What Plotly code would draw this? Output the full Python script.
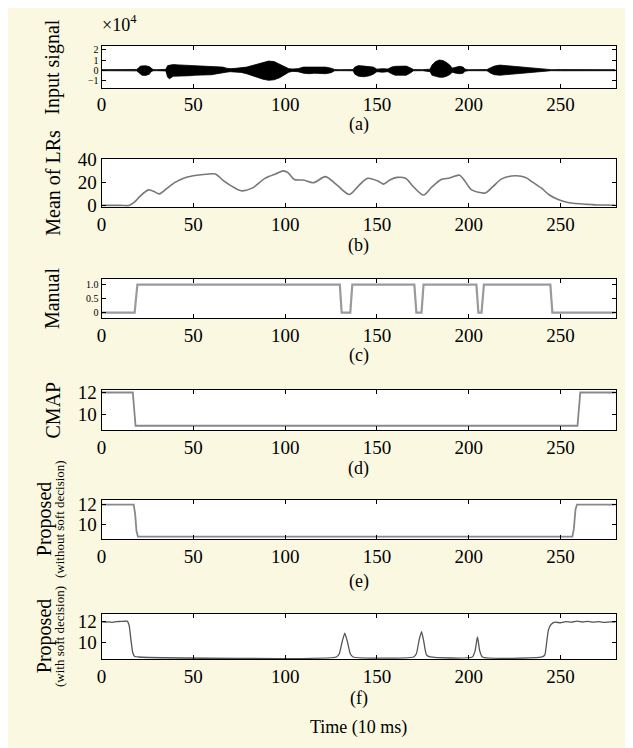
import plotly.graph_objects as go

W, H = 633, 748

# ---------------- data ----------------
# (a) input signal envelope (x10^4)
sig_t = [0, 5, 10, 15, 19, 20, 21, 22, 24, 26, 27, 28, 30, 33, 35, 36, 37, 39, 42, 45, 48, 51, 54, 57, 60,
         63, 66, 68, 70, 73, 76, 79, 82, 85, 88, 91, 94, 97, 100, 102, 104, 107, 110, 113, 116, 119, 122,
         125, 127, 130, 134, 137, 138, 140, 143, 146, 148, 150, 153, 156, 158, 160, 163, 166, 168, 170,
         175, 179, 180, 182, 184, 186, 188, 190, 191, 193, 195, 197, 198, 200, 205, 210, 212, 214, 217,
         220, 223, 226, 229, 232, 235, 238, 240, 245, 250, 260, 270, 280]
sig_hi = [0.05, 0.06, 0.05, 0.06, 0.07, 0.2, 0.38, 0.42, 0.43, 0.35, 0.15, 0.06, 0.05, 0.06, 0.08, 0.45,
          0.5, 0.55, 0.52, 0.5, 0.48, 0.45, 0.4, 0.42, 0.35, 0.35, 0.3, 0.2, 0.15, 0.18, 0.22, 0.3, 0.45,
          0.6, 0.8, 0.9, 0.85, 0.6, 0.35, 0.15, 0.12, 0.15, 0.3, 0.3, 0.28, 0.32, 0.3, 0.2, 0.06, 0.05,
          0.05, 0.06, 0.3, 0.45, 0.4, 0.38, 0.3, 0.1, 0.15, 0.12, 0.3, 0.38, 0.42, 0.4, 0.25, 0.06, 0.05,
          0.1, 0.5, 0.85, 1.0, 0.95, 0.75, 0.45, 0.2, 0.3, 0.38, 0.3, 0.1, 0.05, 0.05, 0.06, 0.25, 0.4,
          0.5, 0.45, 0.35, 0.3, 0.25, 0.2, 0.15, 0.1, 0.07, 0.05, 0.06, 0.05, 0.06, 0.05]
sig_lo = [-0.05, -0.06, -0.05, -0.06, -0.07, -0.2, -0.4, -0.5, -0.52, -0.4, -0.15, -0.06, -0.05, -0.06,
          -0.08, -0.7, -0.85, -0.6, -0.6, -0.55, -0.55, -0.5, -0.5, -0.45, -0.45, -0.35, -0.3, -0.2,
          -0.15, -0.18, -0.22, -0.35, -0.55, -0.75, -0.9, -1.0, -0.95, -0.75, -0.45, -0.2, -0.12, -0.15,
          -0.3, -0.35, -0.3, -0.3, -0.35, -0.25, -0.06, -0.05, -0.05, -0.06, -0.4, -0.6, -0.65, -0.55,
          -0.4, -0.15, -0.2, -0.15, -0.35, -0.5, -0.5, -0.5, -0.3, -0.06, -0.05, -0.15, -0.5, -0.6, -0.7,
          -0.7, -0.6, -0.4, -0.2, -0.3, -0.35, -0.3, -0.1, -0.05, -0.05, -0.06, -0.3, -0.45, -0.5, -0.45,
          -0.4, -0.3, -0.25, -0.2, -0.15, -0.1, -0.07, -0.05, -0.06, -0.05, -0.06, -0.05]

# (b) mean of LRs
lr_t = [0, 10, 15, 18, 21, 25.5, 28, 31.5, 35, 40, 45.8, 52, 57, 62, 66, 70, 76, 82, 89, 95, 99, 101.5,
        105, 110, 115.5, 122, 128, 135, 140, 145, 151, 153.6, 157, 161, 165.6, 170, 175.4, 180, 185,
        189.6, 195, 198, 201.6, 209, 213, 218, 225.5, 231, 235, 239.7, 244, 248.4, 253, 257, 262, 266,
        270, 274.6, 280]
lr_v = [0, 0, 0, 3, 8, 13.5, 12.5, 10, 14, 20, 24.3, 26.2, 27, 27.3, 22, 17.6, 12.7, 15, 23.5, 27.5, 30,
        28.5, 22.5, 22, 19.7, 25, 18, 9.5, 17, 23.5, 20.8, 18.5, 22, 24.3, 23.5, 16, 9, 16, 22.5, 23.8,
        26.2, 21, 13.5, 10.8, 16, 23, 25.7, 24.3, 20, 14.9, 9, 5.4, 3, 1.9, 1.2, 0.8, 0.4, 0.3, 0.1]

# (c) manual labels
man_t = [0, 18, 19.5, 129.8, 130.8, 135.5, 136.6, 170.4, 171.5, 174.3, 175.4, 204.2, 205.3, 207, 208.3,
         244.5, 245.6, 280]
man_v = [0, 0, 1, 1, 0, 0, 1, 1, 0, 0, 1, 1, 0, 0, 1, 1, 0, 0]

# (d) CMAP
cmap_t = [0, 17, 18.5, 259.3, 260.8, 280]
cmap_v = [12, 12, 9, 9, 12, 12]

# (e) proposed without soft decision
hard_t = [0, 17.5, 18.3, 19.0, 19.8, 256.5, 257.3, 258.2, 259, 280]
hard_v = [12, 12, 11, 9.3, 8.7, 8.7, 9.5, 11.5, 12, 12]

# (f) proposed with soft decision
soft_t = [0, 2, 4, 6, 8, 10, 12, 14, 15, 16, 17, 18, 20, 128, 129.5, 131, 132.5, 134, 135.5, 137, 170,
          171.5, 173, 174.3, 175.5, 177, 179, 202, 203.5, 204.8, 206, 207.5, 240, 241.5, 242.5, 243.5,
          245, 247, 250, 253, 256, 259, 262, 265, 268, 271, 274, 277, 280]
soft_v = [11.95, 11.9, 11.93, 11.88, 11.95, 11.97, 11.98, 12.0, 11.6, 10.2, 9.0, 8.65, 8.6, 8.6, 8.9,
          10.0, 10.85, 10.0, 8.9, 8.6, 8.6, 8.9, 10.2, 11.0, 10.1, 8.8, 8.6, 8.6, 9.2, 10.5, 9.2, 8.6,
          8.6, 8.8, 10.0, 11.2, 11.7, 11.9, 11.85, 11.95, 11.9, 12.0, 11.92, 11.97, 11.9, 11.95, 11.88,
          11.93, 11.9]

x_ticks = [0, 50, 100, 150, 200, 250]
panel_labels = ["(a)", "(b)", "(c)", "(d)", "(e)", "(f)"]
x_title = "Time (10 ms)"

# ---------------- layout geometry (pixels, figure coordinates) ----------------
X0, X1 = 89.3, 607.3
boxes = [(29, 71.5), (145, 193.7), (267.5, 308), (381.3, 422.7), (494.3, 534.7), (611.3, 657.8)]
label_y = [109, 233, 346, 462, 578, 698]
SERIF = "Liberation Serif"
BG = "#FAF8E1"

def py(v):
    return 1 - v / H

def px(v):
    return v / W

fig = go.Figure()

# (a)
fig.add_trace(go.Scatter(x=sig_t, y=sig_hi, mode="lines", line=dict(color="black", width=0.8),
                         xaxis="x", yaxis="y", showlegend=False))
fig.add_trace(go.Scatter(x=sig_t, y=sig_lo, mode="lines", line=dict(color="black", width=0.8),
                         fill="tonexty", fillcolor="black", xaxis="x", yaxis="y", showlegend=False))
# (b)
fig.add_trace(go.Scatter(x=lr_t, y=lr_v, mode="lines", line=dict(color="#777777", width=1.6, shape="spline",
                         smoothing=0.8), xaxis="x2", yaxis="y2", showlegend=False))
# (c)
fig.add_trace(go.Scatter(x=man_t, y=man_v, mode="lines", line=dict(color="#9a9a9a", width=2.2),
                         xaxis="x3", yaxis="y3", showlegend=False))
# (d)
fig.add_trace(go.Scatter(x=cmap_t, y=cmap_v, mode="lines", line=dict(color="#888888", width=1.8),
                         xaxis="x4", yaxis="y4", showlegend=False))
# (e)
fig.add_trace(go.Scatter(x=hard_t, y=hard_v, mode="lines", line=dict(color="#888888", width=1.8),
                         xaxis="x5", yaxis="y5", showlegend=False))
# (f)
fig.add_trace(go.Scatter(x=soft_t, y=soft_v, mode="lines", line=dict(color="#555555", width=1.3, shape="spline",
                         smoothing=0.5), xaxis="x6", yaxis="y6", showlegend=False))

y_specs = [
    dict(range=[-1.73, 2.36], tickvals=[-1, 0, 1, 2], ticktext=["−1", "0", "1", "2"], size=10),
    dict(range=[-1.2, 40], tickvals=[0, 20, 40], ticktext=["0", "20", "40"], size=19),
    dict(range=[-0.2, 1.21], tickvals=[0, 0.5, 1.0], ticktext=["0", "0.5", "1.0"], size=10),
    dict(range=[8.62, 12.26], tickvals=[10, 12], ticktext=["10", "12"], size=19),
    dict(range=[8.45, 12.5], tickvals=[10, 12], ticktext=["10", "12"], size=19),
    dict(range=[8.4, 12.7], tickvals=[10, 12], ticktext=["10", "12"], size=19),
]

layout = dict(width=W, height=H, margin=dict(l=0, r=0, t=0, b=0),
              paper_bgcolor=BG, plot_bgcolor="white", showlegend=False)
annotations = []
for i, ((t, b), ys) in enumerate(zip(boxes, y_specs)):
    n = "" if i == 0 else str(i + 1)
    layout["xaxis" + n] = dict(domain=[px(X0), px(X1)], range=[0, 280], anchor="y" + n,
                               tickvals=x_ticks, ticks="inside", ticklen=4, tickcolor="black",
                               showline=True, linecolor="black", linewidth=1, mirror="allticks",
                               showgrid=False, zeroline=False,
                               tickfont=dict(family=SERIF, size=19, color="black"))
    layout["yaxis" + n] = dict(domain=[py(b), py(t)], range=ys["range"], anchor="x" + n,
                               tickvals=ys["tickvals"], ticktext=ys["ticktext"],
                               ticks="inside", ticklen=4, tickcolor="black",
                               showline=True, linecolor="black", linewidth=1, mirror="allticks",
                               showgrid=False, zeroline=False,
                               tickfont=dict(family=SERIF, size=ys["size"], color="black"))
    annotations.append(dict(text=panel_labels[i], x=px((X0 + X1) / 2), y=py(label_y[i]), xref="paper",
                            yref="paper", showarrow=False, xanchor="center", yanchor="middle",
                            font=dict(family=SERIF, size=18, color="black")))

titles = ["Input signal", "Mean of LRs", "Manual", "CMAP"]
for i, tt in enumerate(titles):
    t, b = boxes[i]
    annotations.append(dict(text=tt, x=px(40), y=py((t + b) / 2), xref="paper", yref="paper",
                            showarrow=False, textangle=-90, xanchor="center", yanchor="middle",
                            font=dict(family=SERIF, size=20, color="black")))
subs = ["(without soft decision)", "(with soft decision)"]
for k, i in enumerate([4, 5]):
    t, b = boxes[i]
    annotations.append(dict(text="Proposed", x=px(32), y=py((t + b) / 2), xref="paper", yref="paper",
                            showarrow=False, textangle=-90, xanchor="center", yanchor="middle",
                            font=dict(family=SERIF, size=20, color="black")))
    annotations.append(dict(text=subs[k], x=px(47), y=py((t + b) / 2), xref="paper", yref="paper",
                            showarrow=False, textangle=-90, xanchor="center", yanchor="middle",
                            font=dict(family=SERIF, size=13, color="black")))

annotations.append(dict(text="×10<sup>4</sup>", x=px(88), y=py(20), xref="paper", yref="paper",
                        showarrow=False, xanchor="left", yanchor="bottom",
                        font=dict(family=SERIF, size=18, color="black")))
annotations.append(dict(text=x_title, x=px((X0 + X1) / 2), y=py(728), xref="paper", yref="paper",
                        showarrow=False, xanchor="center", yanchor="middle",
                        font=dict(family=SERIF, size=18, color="black")))
layout["annotations"] = annotations
fig.update_layout(**layout)
fig.write_html("out.html")
